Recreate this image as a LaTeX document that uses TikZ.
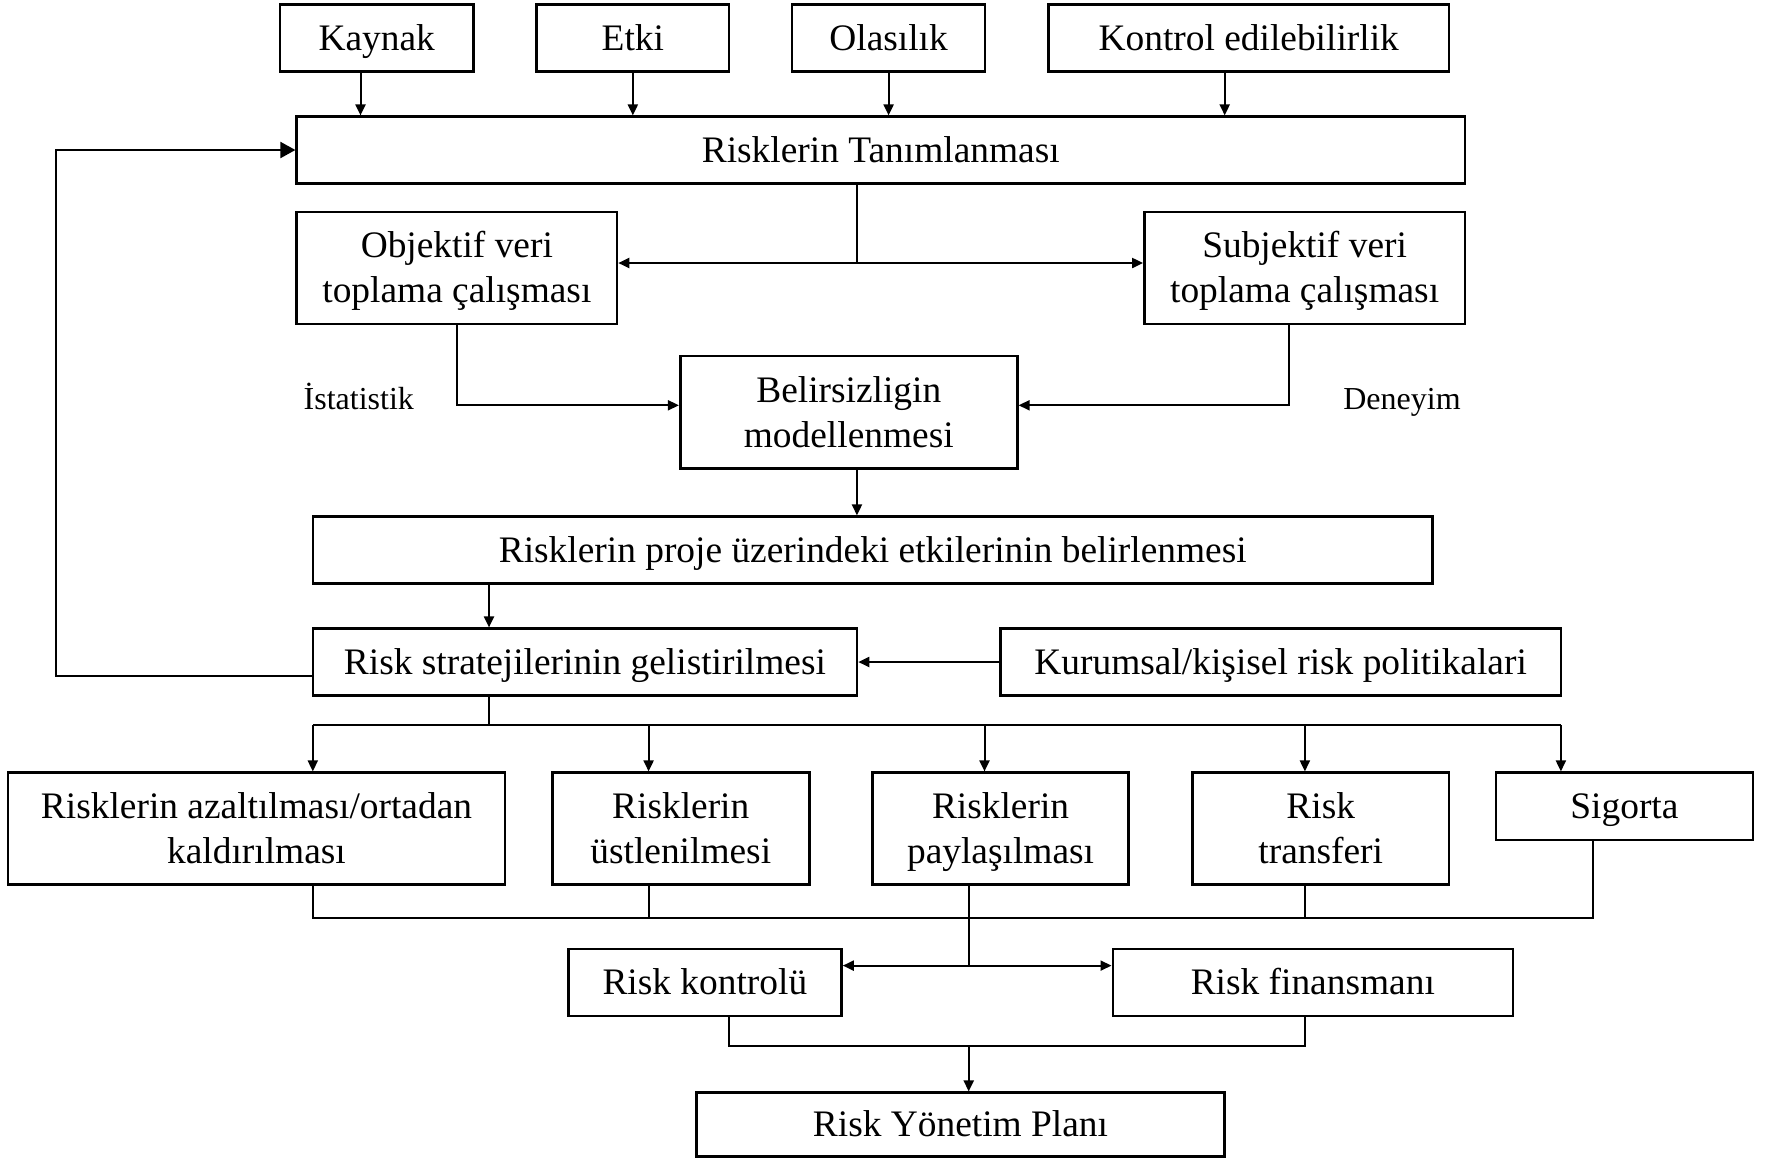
\documentclass[tikz,border=0pt]{standalone}
\usepackage{fontspec}
\setmainfont{Liberation Serif}
\usetikzlibrary{arrows.meta,calc}
\tikzset{
  box/.style={draw, line width=1.3pt, align=center, inner sep=0pt,
    font=\fontsize{18.7}{22.5}\selectfont},
  one/.style={text height=13.4pt, text depth=1pt},
  two/.style={text height=35.9pt, text depth=1pt},
  sz/.style n args={2}{minimum width=#1*0.5pt, minimum height=#2*0.5pt},
  lbl/.style={font=\fontsize{16}{19}\selectfont, inner sep=0pt, anchor=base},
  wire/.style={line width=1pt},
  arr/.style={wire, -{Triangle[length=5.5pt,width=5pt]}},
  bigarr/.style={wire, -{Triangle[length=7.5pt,width=8pt]}}
}
\begin{document}
\begin{tikzpicture}[x=0.5pt,y=-0.5pt]
\useasboundingbox (0,0) rectangle (1766,1158);

% risk attributes
\node[box,one,sz={193.5}{67}] (kaynak) at (376.75,38.2) {Kaynak};
\node[box,one,sz={192.3}{67}] (etki) at (632.85,38.2) {Etki};
\node[box,one,sz={193}{67}] (olas) at (888.6,38.2) {Olasılık};
\node[box,one,sz={400.6}{67}] (kontrol) at (1248.7,38.2) {Kontrol edilebilirlik};

% identification and data collection
\node[box,one,sz={1168.1}{66.6}] (tanim) at (880.75,150) {Risklerin Tanımlanması};
\node[box,two,sz={320.3}{112}] (objektif) at (456.85,268) {Objektif veri\\toplama çalışması};
\node[box,two,sz={320.4}{112}] (subjektif) at (1304.6,268) {Subjektif veri\\toplama çalışması};
\node[box,two,sz={337.1}{112.3}] (belirsiz) at (848.75,412.15) {Belirsizligin\\modellenmesi};
\node[lbl] (istat) at (358.8,409) {İstatistik};
\node[lbl] (deney) at (1402,409) {Deneyim};

% effects and strategies
\node[box,one,sz={1119.8}{66.6}] (proje) at (872.7,550) {Risklerin proje üzerindeki etkilerinin belirlenmesi};
\node[box,one,sz={544.2}{66.6}] (strat) at (584.9,662) {Risk stratejilerinin gelistirilmesi};
\node[box,one,sz={560.5}{66.6}] (kurumsal) at (1280.65,662) {Kurumsal/kişisel risk politikalari};

% strategy options
\node[box,two,sz={497}{112}] (b1) at (256.5,828.7) {Risklerin azaltılması/ortadan\\kaldırılması};
\node[box,two,sz={257.1}{112}] (b2) at (680.75,828.7) {Risklerin\\üstlenilmesi};
\node[box,two,sz={256.1}{112}] (b3) at (1000.55,828.7) {Risklerin\\paylaşılması};
\node[box,two,sz={256.5}{112}] (b4) at (1320.75,828.7) {Risk\\transferi};
\node[box,one,sz={257.1}{67.3}] (b5) at (1624.45,806.35) {Sigorta};

% control, financing and the plan
\node[box,one,sz={273.3}{67}] (kontrolu) at (704.85,982.5) {Risk kontrolü};
\node[box,one,sz={400}{67}] (finans) at (1312.8,982.5) {Risk finansmanı};
\node[box,one,sz={528.5}{63.5}] (plan) at (960.45,1124.5) {Risk Yönetim Planı};

% attributes into identification
\draw[arr] ([xshift=-8.125pt]kaynak.south) coordinate (k1) -- (k1 |- tanim.north);
\draw[arr] (etki.south) -- (etki.south |- tanim.north);
\draw[arr] (olas.south) -- (olas.south |- tanim.north);
\draw[arr] ([xshift=-12pt]kontrol.south) coordinate (k4) -- (k4 |- tanim.north);

% identification splits into both data collections
\draw[wire] ([xshift=-11.875pt]tanim.south) -- ++(0,78.4) coordinate (tj);
\draw[arr] (tj) -- (tj -| objektif.east);
\draw[arr] (tj) -- (tj -| subjektif.west);

% data collections into uncertainty modelling
\draw[arr] (objektif.south) |- ([yshift=3.43pt]belirsiz.west);
\draw[arr] ([xshift=-8.05pt]subjektif.south) |- ([yshift=3.43pt]belirsiz.east);

% modelling -> effects -> strategies
\draw[arr] ([xshift=4.1pt]belirsiz.south) coordinate (bs) -- (bs |- proje.north);
\path ([xshift=-47.95pt]strat.north) coordinate (sx);
\draw[arr] (sx |- proje.south) -- (sx);
\draw[arr] (kurumsal.west) -- (kurumsal.west -| strat.east);

% feedback loop back to identification
\coordinate (fb) at (56.3,400);
\draw[bigarr] ([yshift=-7.15pt]strat.west) -| (fb) |- (tanim.west);

% distribution to the strategy options
\path ([xshift=28.15pt]b1.north) coordinate (b1t)
      ([xshift=-16.08pt]b2.north) coordinate (b2t)
      ([xshift=-8.03pt]b3.north) coordinate (b3t)
      ([xshift=-7.93pt]b4.north) coordinate (b4t)
      ([xshift=-31.78pt]b5.north) coordinate (b5t);
\draw[wire] ([xshift=-47.95pt]strat.south) -- ++(0,28.7) coordinate (bus);
\draw[wire] (bus -| b1t) -- (bus -| b5t);
\foreach \t in {b1t,b2t,b3t,b4t,b5t}
  \draw[arr] (bus -| \t) -- (\t);

% options gathered into control and financing
\path ([xshift=28.15pt]b1.south) coordinate (b1b)
      ([xshift=-16.08pt]b2.south) coordinate (b2b)
      ([xshift=-15.93pt]b3.south) coordinate (b3b)
      ([xshift=-7.93pt]b4.south) coordinate (b4b)
      ([xshift=-15.73pt]b5.south) coordinate (b5b);
\draw[wire] (b1b) -- ++(0,32) coordinate (lb) -- (lb -| b5b) -- (b5b);
\draw[wire] (b2b) -- (b2b |- lb);
\draw[wire] (b4b) -- (b4b |- lb);
\draw[wire] (b3b) -- ++(0,79.6) coordinate (b3j);
\draw[arr] (b3j) -- (b3j -| kontrolu.east);
\draw[arr] (b3j) -- (b3j -| finans.west);

% control and financing into the plan
\path ([xshift=-3.95pt]finans.south) coordinate (fs)
      ([xshift=4.13pt]plan.north) coordinate (pt);
\draw[wire] ([xshift=12.08pt]kontrolu.south) -- ++(0,29) coordinate (kj) -| (fs);
\draw[arr] (pt |- kj) -- (pt);
\end{tikzpicture}
\end{document}
